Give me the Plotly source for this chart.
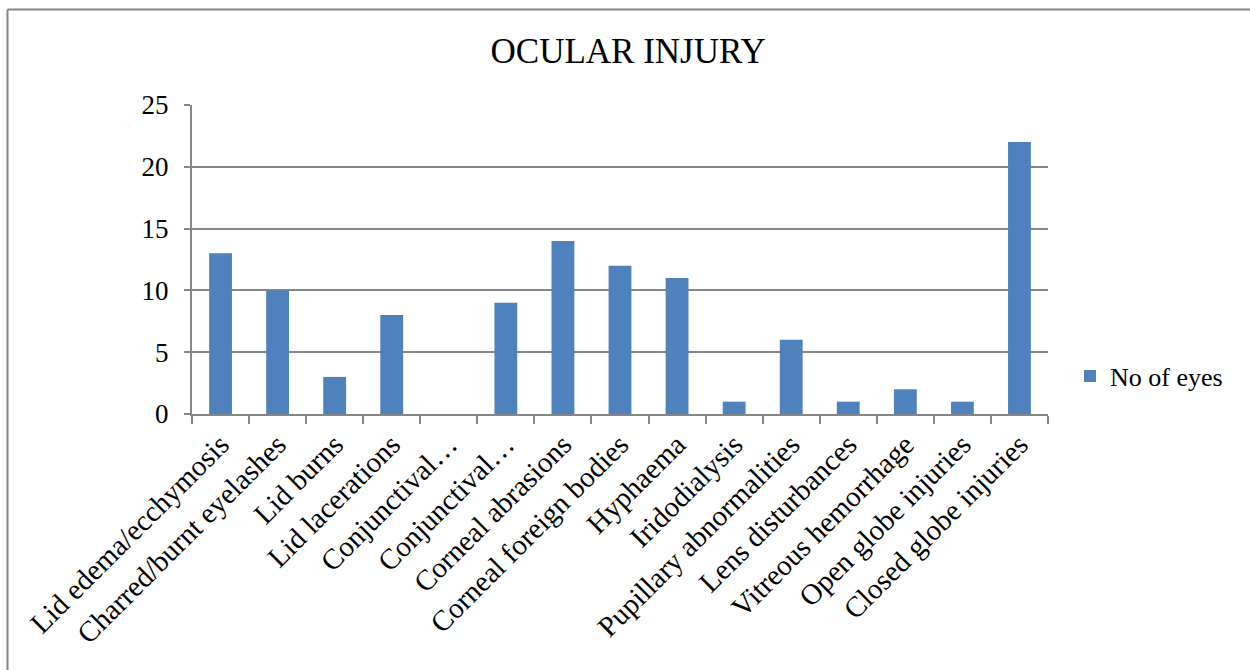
import plotly.graph_objects as go

categories = [
    "Lid edema/ecchymosis",
    "Charred/burnt eyelashes",
    "Lid burns",
    "Lid lacerations",
    "Conjunctival hemorrhage",
    "Conjunctival chemosis",
    "Corneal abrasions",
    "Corneal foreign bodies",
    "Hyphaema",
    "Iridodialysis",
    "Pupillary abnormalities",
    "Lens disturbances",
    "Vitreous hemorrhage",
    "Open globe injuries",
    "Closed globe injuries",
]
tick_labels = [
    "Lid edema/ecchymosis",
    "Charred/burnt eyelashes",
    "Lid burns",
    "Lid lacerations",
    "Conjunctival…",
    "Conjunctival…",
    "Corneal abrasions",
    "Corneal foreign bodies",
    "Hyphaema",
    "Iridodialysis",
    "Pupillary abnormalities",
    "Lens disturbances",
    "Vitreous hemorrhage",
    "Open globe injuries",
    "Closed globe injuries",
]
no_of_eyes = [13, 10, 3, 8, 0, 9, 14, 12, 11, 1, 6, 1, 2, 1, 22]
y_ticks = [0, 5, 10, 15, 20, 25]

FONT = "Liberation Serif, Times New Roman, serif"
GRID = "#868686"

fig = go.Figure()
fig.add_trace(go.Bar(
    x=categories, y=no_of_eyes, name="No of eyes",
    marker=dict(color="#4F81BD", line=dict(width=0)),
    showlegend=True,
))

fig.update_layout(
    width=1250, height=670,
    margin=dict(l=192, r=202, t=105, b=256, autoexpand=False),
    paper_bgcolor="white", plot_bgcolor="white",
    font=dict(family=FONT, color="black"),
    title=dict(text="OCULAR INJURY", x=0.5025, xref="container", xanchor="center",
               y=1 - 51 / 670, yref="container", yanchor="middle",
               font=dict(family=FONT, size=35, color="black")),
    bargap=0.6,
    showlegend=True,
    legend=dict(x=(1070 - 192) / 856, xanchor="left", y=0.123, yanchor="middle",
                font=dict(family=FONT, size=26, color="black"),
                bgcolor="rgba(0,0,0,0)", itemwidth=30),
    xaxis=dict(
        type="category", categoryorder="array", categoryarray=categories,
        tickmode="array", tickvals=categories, ticktext=tick_labels,
        tickangle=-45, tickfont=dict(family=FONT, size=29, color="black"),
        showline=True, linecolor=GRID, linewidth=2,
        ticks="outside", tickson="boundaries", ticklen=8, tickcolor=GRID, tickwidth=2,
        showgrid=False, range=[-0.5, 14.5], automargin=False,
    ),
    yaxis=dict(
        range=[0, 25], tickmode="array", tickvals=y_ticks,
        tickfont=dict(family=FONT, size=27, color="black"),
        showline=True, linecolor=GRID, linewidth=2,
        ticks="outside", ticklen=6, tickcolor=GRID, tickwidth=2,
        showgrid=True, gridcolor=GRID, gridwidth=2,
        zeroline=False, ticklabelstandoff=10, automargin=False,
    ),
    shapes=[
        dict(type="line", xref="paper", yref="paper",
             x0=(7.5 - 192) / 856, x1=2.0, y0=(414 - 9.5) / 309, y1=(414 - 9.5) / 309,
             line=dict(color=GRID, width=2)),
        dict(type="line", xref="paper", yref="paper",
             x0=(7.5 - 192) / 856, x1=(7.5 - 192) / 856, y0=(414 - 9.5) / 309, y1=-2.0,
             line=dict(color=GRID, width=2)),
    ],
)

fig.write_html("out.html", config={"displayModeBar": False},
               post_script="document.body.style.margin='0px';")
